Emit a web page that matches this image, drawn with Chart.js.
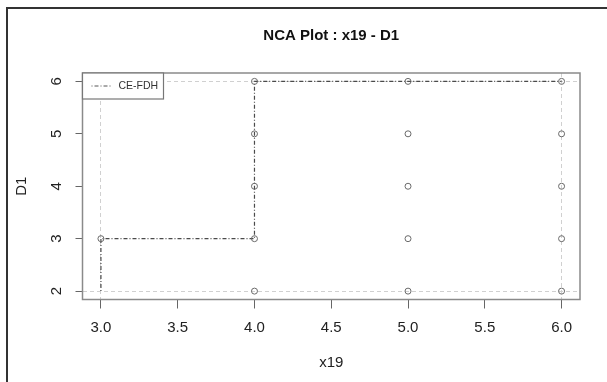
<!DOCTYPE html>
<html>
<head>
<meta charset="utf-8">
<script src="https://cdn.jsdelivr.net/npm/chart.js@4/dist/chart.umd.min.js"></script>
<style>
  html, body { margin: 0; padding: 0; background: #fff; }
  #wrap { width: 607px; height: 382px; }
</style>
</head>
<body>
<div id="wrap"><canvas id="myChart"></canvas></div>
<script>
// observed points (x19, D1)
var pointX = [3, 4, 4, 4, 4, 4, 5, 5, 5, 5, 5, 6, 6, 6, 6, 6];
var pointY = [3, 2, 3, 4, 5, 6, 2, 3, 4, 5, 6, 2, 3, 4, 5, 6];

// CE-FDH ceiling step line
var ceX = [3, 3, 4, 4, 6];
var ceY = [2, 3, 3, 6, 6];

var xTicks = [3.0, 3.5, 4.0, 4.5, 5.0, 5.5, 6.0];
var yTicks = [2, 3, 4, 5, 6];
var scopeX = [3, 6];
var scopeY = [2, 6];

document.addEventListener('DOMContentLoaded', function(){
  var ctx = document.getElementById('myChart').getContext('2d');

  // box round the plot, outer frame and the legend box
  var decor = {
    id: 'decor',
    afterDraw: function(chart) {
      var c = chart.ctx, a = chart.chartArea;
      c.save();
      c.strokeStyle = '#8a8a8a';
      c.lineWidth = 1.5;
      c.strokeRect(a.left, a.top, a.right - a.left, a.bottom - a.top);

      // outer frame (left + top only)
      c.strokeStyle = '#333';
      c.lineWidth = 2;
      c.beginPath();
      c.moveTo(7, 382);
      c.lineTo(7, 8);
      c.lineTo(607, 8);
      c.stroke();

      // legend
      var ds = chart.data.datasets[1];
      c.fillStyle = '#fff';
      c.fillRect(a.left, a.top, 81, 26);
      c.strokeStyle = '#777';
      c.lineWidth = 1.2;
      c.strokeRect(a.left, a.top, 81, 26);
      c.strokeStyle = '#555';
      c.lineWidth = 1;
      c.setLineDash([1, 2, 4, 2]);
      c.beginPath();
      c.moveTo(a.left + 9, a.top + 13);
      c.lineTo(a.left + 28, a.top + 13);
      c.stroke();
      c.setLineDash([]);
      c.fillStyle = '#333';
      c.font = '10.5px "Liberation Sans", Arial, sans-serif';
      c.textBaseline = 'middle';
      c.fillText(ds.label, a.left + 36, a.top + 13.5);
      c.restore();
    }
  };

  var chart = new Chart(ctx, {
    type: 'scatter',
    data: {
      datasets: [{
        label: 'points',
        data: pointX.map(function(x, i){ return {x: x, y: pointY[i]}; }),
        pointRadius: 3,
        pointHoverRadius: 3,
        pointBorderWidth: 1,
        pointBorderColor: '#6a6a6a',
        pointBackgroundColor: 'rgba(0,0,0,0)',
        showLine: false
      }, {
        label: 'CE-FDH',
        data: ceX.map(function(x, i){ return {x: x, y: ceY[i]}; }),
        showLine: true,
        borderColor: '#4a4a4a',
        borderWidth: 1.2,
        borderDash: [1, 2, 4, 2],
        pointRadius: 0,
        fill: false,
        tension: 0
      }]
    },
    options: {
      responsive: true,
      maintainAspectRatio: false,
      animation: false,
      layout: { padding: { left: 0, right: 27, top: 0, bottom: 0 } },
      plugins: {
        legend: { display: false },
        tooltip: { enabled: false },
        title: {
          display: true,
          text: 'NCA Plot : x19 - D1',
          fullSize: false,
          color: '#111',
          font: { family: '"Liberation Sans", Arial, sans-serif', size: 15, weight: 'bold' },
          padding: { top: 27, bottom: 28 }
        }
      },
      scales: {
        x: {
          type: 'linear',
          min: 2.88,
          max: 6.12,
          afterBuildTicks: function(s){ s.ticks = xTicks.map(function(v){ return {value: v}; }); },
          afterFit: function(s){ s.height = 82.5; },
          border: { display: false, dash: [4, 3] },
          grid: {
            drawOnChartArea: true,
            color: function(c){ return scopeX.indexOf(c.tick && c.tick.value) >= 0 ? '#d0d0d0' : 'rgba(0,0,0,0)'; },
            tickColor: '#666',
            tickBorderDash: [],
            tickLength: 9,
            lineWidth: 1
          },
          ticks: {
            color: '#222',
            padding: 10,
            maxRotation: 0,
            font: { family: '"Liberation Sans", Arial, sans-serif', size: 15 },
            callback: function(v){ return Number(v).toFixed(1); }
          },
          title: {
            display: true,
            text: 'x19',
            color: '#222',
            font: { family: '"Liberation Sans", Arial, sans-serif', size: 15 },
            padding: { top: 0, bottom: 10 }
          }
        },
        y: {
          type: 'linear',
          min: 1.84,
          max: 6.16,
          afterBuildTicks: function(s){ s.ticks = yTicks.map(function(v){ return {value: v}; }); },
          afterFit: function(s){ s.width = 82.5; },
          border: { display: false, dash: [4, 3] },
          grid: {
            drawOnChartArea: true,
            color: function(c){ return scopeY.indexOf(c.tick && c.tick.value) >= 0 ? '#d0d0d0' : 'rgba(0,0,0,0)'; },
            tickColor: '#666',
            tickBorderDash: [],
            tickLength: 7,
            lineWidth: 1
          },
          ticks: {
            color: '#222',
            padding: 14,
            minRotation: 90,
            maxRotation: 90,
            crossAlign: 'center',
            font: { family: '"Liberation Sans", Arial, sans-serif', size: 15 },
            callback: function(v){ return String(v); }
          },
          title: {
            display: true,
            text: 'D1',
            color: '#222',
            font: { family: '"Liberation Sans", Arial, sans-serif', size: 15 },
            padding: { top: 13, bottom: 0 }
          }
        }
      }
    },
    plugins: [decor]
  });
});
</script>
</body>
</html>
